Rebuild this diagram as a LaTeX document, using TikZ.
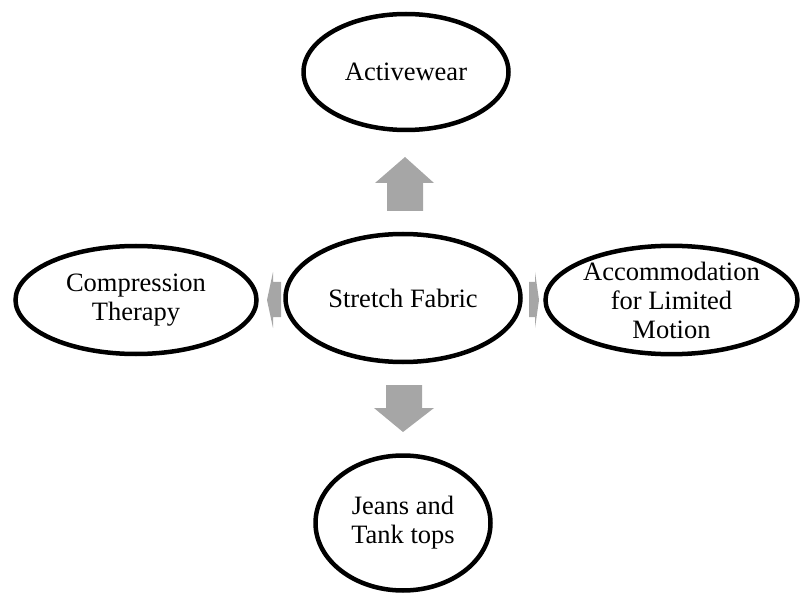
\documentclass[tikz,border=0pt]{standalone}
\usepackage{fontspec}
\setmainfont{Liberation Serif}
\usetikzlibrary{shapes.geometric}
\definecolor{arrowgray}{HTML}{A6A6A6}
\tikzset{
  bubble/.style={ellipse, draw=black, line width=4.5pt, inner sep=0pt,
    align=center, font=\fontsize{26.5}{29}\selectfont},
  blockarrow/.style={fill=arrowgray, draw=none}
}
\begin{document}
\begin{tikzpicture}[x=1pt, y=-1pt]
  \useasboundingbox (0,0) rectangle (801,596);

  % hub and its four satellites
  \node[bubble, minimum width=235pt, minimum height=128pt] (hub) at (403,298) {Stretch Fabric};
  \node[bubble, minimum width=205pt, minimum height=116pt] (top) at (406,72) {Activewear};
  \node[bubble, minimum width=241pt, minimum height=108pt] (left) at (136,300) {Compression\\Therapy};
  \node[bubble, minimum width=252pt, minimum height=108pt] (right) at (671.5,300) {Accommodation\\for Limited\\Motion};
  \node[bubble, minimum width=175pt, minimum height=135pt] (bottom) at (403,523) {Jeans and\\Tank tops};

  % block arrows between the hub and the satellites
  \fill[blockarrow] (387,211) -- (387,183) -- (375,183) -- (405,157) -- (434,183) -- (423,183) -- (423,211) -- cycle;
  \fill[blockarrow] (386,385) -- (422,385) -- (422,408) -- (434,408) -- (403,432) -- (374,408) -- (386,408) -- cycle;
  \fill[blockarrow] (281,282) -- (273,282) -- (273,272) -- (267,300) -- (273,328) -- (273,317) -- (281,317) -- cycle;
  \fill[blockarrow] (529,282) -- (535,282) -- (535,272) -- (539,300) -- (535,328) -- (535,317) -- (529,317) -- cycle;
\end{tikzpicture}
\end{document}
